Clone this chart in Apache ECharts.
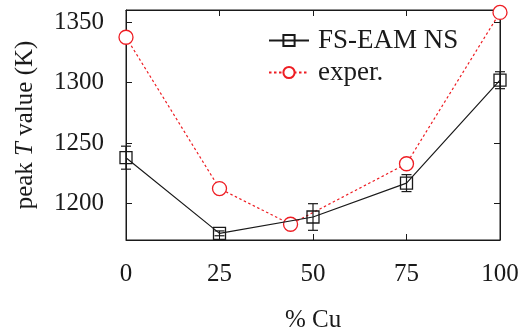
<!DOCTYPE html>
<html><head><meta charset="utf-8">
<script src="https://cdn.jsdelivr.net/npm/echarts@6/dist/echarts.min.js"></script>
<style>html,body{margin:0;padding:0;background:#fff}#c{width:520px;height:330px}</style>
</head><body><div id="c"></div>
<script>
const xTicks = [0, 25, 50, 75, 100];
const fsX = [0, 25, 50, 75, 100];
const fsY = [1238, 1175.5, 1189, 1217, 1302];
const fsErr = [9.5, 2, 11, 7, 7];
const expX = [0, 25, 44, 75, 100];
const expY = [1337.5, 1212.5, 1183, 1233, 1358];
const yTicks = [1200, 1250, 1300, 1350];

const FONT = 'Liberation Serif';
const BLACK = '#1a1a1a';
const RED = '#ee1d23';

const fsData = fsX.map((x, i) => [x, fsY[i]]);
const expData = expX.map((x, i) => [x, expY[i]]);
const errData = fsX.map((x, i) => [x, fsY[i] - fsErr[i], fsY[i] + fsErr[i]]);

const chart = echarts.init(document.getElementById('c'), null, {renderer: 'canvas'});
const line = {show: true, onZero: false, lineStyle: {color: BLACK, width: 1}};
const tick = (vals) => ({show: true, inside: true, length: 6, lineStyle: {color: BLACK, width: 1}, customValues: vals});
const plain = v => String(v);
chart.setOption({
  animation: false,
  grid: {left: 126, right: 20, top: 10, bottom: 90, containLabel: false, outerBoundsMode: 'none',
    show: true, borderColor: BLACK, borderWidth: 1, backgroundColor: 'transparent'},
  legend: {
    left: 263, top: 22, orient: 'vertical', itemGap: 5,
    itemWidth: 40, itemHeight: 14,
    textStyle: {fontFamily: FONT, fontSize: 27, color: BLACK, padding: [0, 0, 0, 4]},
    data: ['FS-EAM NS', 'exper.']
  },
  xAxis: [
    {
      type: 'value', min: 0, max: 100,
      name: '% Cu', nameLocation: 'middle', nameGap: 68,
      nameTextStyle: {fontFamily: FONT, fontSize: 25, color: BLACK},
      axisLine: line, axisTick: tick(xTicks), splitLine: {show: false},
      axisLabel: {fontFamily: FONT, fontSize: 25, color: BLACK, margin: 22,
        customValues: xTicks, formatter: plain}
    },
    {
      type: 'value', min: 0, max: 100, position: 'top',
      axisLine: line, axisTick: tick(xTicks), splitLine: {show: false},
      axisLabel: {show: false, customValues: xTicks}
    }
  ],
  yAxis: [
    {
      type: 'value', min: 1170, max: 1360,
      name: '{n|peak }{i|T}{n| value (K)}', nameLocation: 'middle', nameGap: 88,
      nameTextStyle: {
        rich: {
          n: {fontFamily: FONT, fontSize: 25, color: BLACK},
          i: {fontFamily: FONT, fontSize: 25, color: BLACK, fontStyle: 'italic'}
        }
      },
      axisLine: line, axisTick: tick(yTicks), splitLine: {show: false},
      axisLabel: {fontFamily: FONT, fontSize: 25, color: BLACK, margin: 22,
        customValues: yTicks, formatter: plain}
    },
    {
      type: 'value', min: 1170, max: 1360, position: 'right',
      axisLine: line, axisTick: tick(yTicks), splitLine: {show: false},
      axisLabel: {show: false, customValues: yTicks}
    }
  ],
  series: [
    {
      name: 'mirror', type: 'line', data: [], xAxisIndex: 1, yAxisIndex: 1, silent: true
    },
    {
      name: 'exper.', type: 'line', data: expData,
      symbol: 'circle', symbolSize: 14, showSymbol: true,
      itemStyle: {color: '#fff', borderColor: RED, borderWidth: 1.3},
      lineStyle: {color: RED, width: 1.2, type: [2.5, 2.5]},
      z: 3
    },
    {
      name: 'FS-EAM NS', type: 'line', data: fsData,
      symbol: 'rect', symbolSize: 12, showSymbol: true,
      itemStyle: {color: 'rgba(255,255,255,0)', borderColor: BLACK, borderWidth: 1.3},
      lineStyle: {color: BLACK, width: 1.2},
      z: 4
    },
    {
      name: 'err', type: 'custom', data: errData, z: 5,
      renderItem: function (params, api) {
        const x = api.value(0);
        const lo = api.coord([x, api.value(1)]);
        const hi = api.coord([x, api.value(2)]);
        const w = 5;
        const st = {stroke: BLACK, lineWidth: 1.2};
        return {type: 'group', children: [
          {type: 'line', shape: {x1: lo[0], y1: lo[1], x2: hi[0], y2: hi[1]}, style: st},
          {type: 'line', shape: {x1: lo[0] - w, y1: lo[1], x2: lo[0] + w, y2: lo[1]}, style: st},
          {type: 'line', shape: {x1: hi[0] - w, y1: hi[1], x2: hi[0] + w, y2: hi[1]}, style: st}
        ]};
      }
    }
  ]
});
</script></body></html>
